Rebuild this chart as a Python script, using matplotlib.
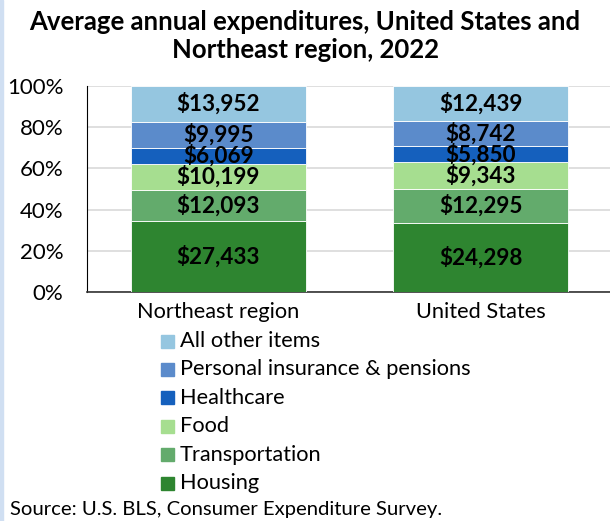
import matplotlib
matplotlib.use("Agg")
import matplotlib.pyplot as plt
from matplotlib.patches import Rectangle
import numpy as np

regions = ["Northeast region", "United States"]
categories = ["Housing", "Transportation", "Food", "Healthcare",
              "Personal insurance & pensions", "All other items"]
northeast = [27433, 12093, 10199, 6069, 9995, 13952]
united_states = [24298, 12295, 9343, 5850, 8742, 12439]
colors = ["#2E8530", "#63AB6C", "#A6DE90", "#1560BD", "#5B8BCB", "#95C6E0"]
yticks = [0, 20, 40, 60, 80, 100]

plt.rcParams['font.family'] = ['Lato', 'DejaVu Sans']

W, H = 610, 521
fig = plt.figure(figsize=(W / 100, H / 100), dpi=100)
fig.patches.append(Rectangle((0, 0), 3 / W, 1, transform=fig.transFigure,
                             color="#D0DFF2", zorder=0))

ax = fig.add_axes([87 / W, (H - 292) / H, (612 - 87) / W, (292 - 86) / H])
data = np.array([northeast, united_states], dtype=float)
totals = data.sum(axis=1)
pct = data / totals[:, None] * 100
x = np.arange(len(regions))
bottom = np.zeros(len(regions))
for i, cat in enumerate(categories):
    ax.bar(x, pct[:, i], 0.667, bottom=bottom, color=colors[i],
           edgecolor="white", linewidth=0.6, label=cat, zorder=3)
    for j in range(len(regions)):
        ax.text(x[j], bottom[j] + pct[j, i] / 2, f"${data[j, i]:,.0f}",
                ha="center", va="center", fontsize=16.2, fontweight="bold",
                color="black", zorder=4)
    bottom += pct[:, i]

ax.set_xlim(-0.5, 1.5)
ax.set_ylim(0, 100)
ax.set_yticks(yticks)
ax.set_yticklabels([f"{t}%" for t in yticks], fontsize=16)
ax.set_xticks(x)
ax.set_xticklabels(regions, fontsize=15.7)
ax.tick_params(axis="y", length=0, pad=17)
ax.tick_params(axis="x", length=0, pad=7)
ax.grid(axis="y", color="#D9D9D9", linewidth=1.2, zorder=0)
for s in ["top", "right"]:
    ax.spines[s].set_visible(False)
ax.spines["left"].set_color("black")
ax.spines["bottom"].set_color("#333333")
ax.spines["bottom"].set_linewidth(1.2)

fig.text(0.5, 1 - 22 / H, "Average annual expenditures, United States and",
         ha="center", va="center", fontsize=18.5, fontweight="bold")
fig.text(0.5, 1 - 50 / H, "Northeast region, 2022",
         ha="center", va="center", fontsize=18.5, fontweight="bold")

# legend (reverse order, top = last category)
leg_y0, leg_dy = 341, 28.4
for k, i in enumerate(range(len(categories) - 1, -1, -1)):
    yc = leg_y0 + k * leg_dy
    fig.patches.append(Rectangle((161 / W, 1 - (yc + 6.5) / H), 12.5 / W, 13 / H,
                                 transform=fig.transFigure, color=colors[i]))
    fig.text(180 / W, 1 - yc / H, categories[i], ha="left", va="center",
             fontsize=15.7)

fig.text(10 / W, 1 - 509 / H, "Source: U.S. BLS, Consumer Expenditure Survey.",
         ha="left", va="center", fontsize=14.6)

fig.savefig("out.png", dpi=100)
